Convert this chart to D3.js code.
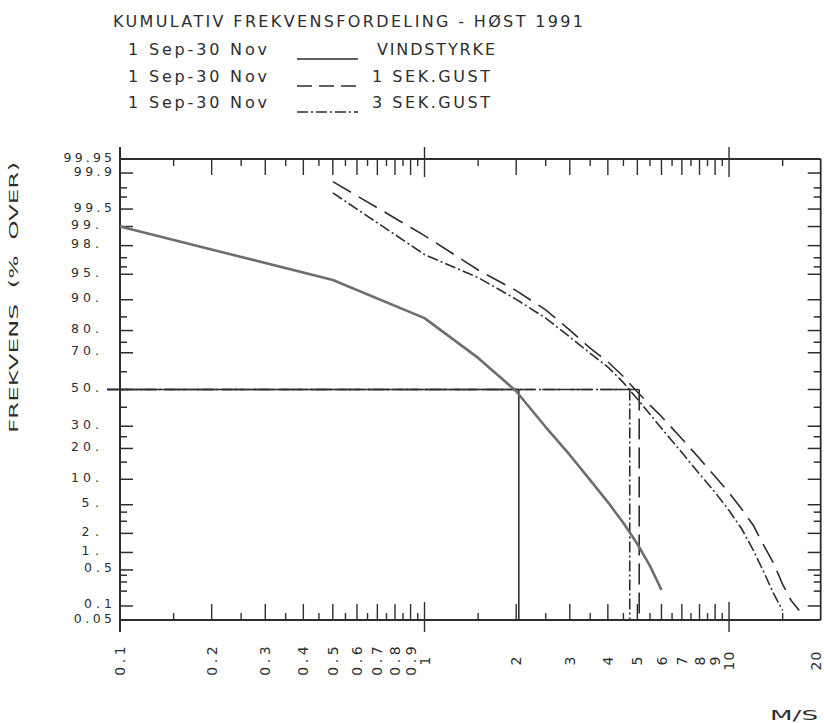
<!DOCTYPE html>
<html><head><meta charset="utf-8">
<script src="https://cdn.jsdelivr.net/npm/d3@7"></script>
<style>body{margin:0;background:#fff}svg{display:block}</style>
</head><body><svg id="c" width="824" height="723"></svg>
<script>
// ---- data ----
const speedsVind = [0.1,0.5,1,1.5,2,2.5,3,3.5,4,4.5,5,5.5,6];
const pctVind    = [99.0,94.1,84.6,67.4,49,29.6,17.5,9.8,5.4,2.83,1.37,0.59,0.21];
const speedsGust1 = [0.5,1,1.5,2,2.5,3,3.5,4,4.5,5,5.5,6,7,8,9,10,11,12,13,14,15,16,17];
const pctGust1    = [99.85,98.6,95.6,92.1,87.2,80.2,72.2,65.4,57.3,48.6,41.2,35,24.1,16.2,10.7,7.05,4.4,2.65,1.3,0.66,0.27,0.13,0.08];
const speedsGust3 = [0.5,1,1.5,2,2.5,3,3.5,4,4.5,5,5.5,6,7,8,9,10,11,12,13,14,15];
const pctGust3    = [99.75,97.3,94.5,90.1,84.6,77.3,69.7,62.6,53.9,44.6,36.2,29,18.4,11.4,7.1,4.2,2.34,1.1,0.46,0.18,0.08];
const medianSpeeds = [2.04, 4.72, 5.07];   // vind, 3 sek, 1 sek at 50 %
const yTickMajor  = [99.9,99.5,99,98,95,90,80,70,50,30,20,10,5,2,1,0.5,0.1];
const yTickMinor  = [99.8,99.7,97,96,85,75,60,40,25,15,4,3,0.4,0.3,0.2];
const yLabelVals  = [99.95,99.9,99.5,99,98,95,90,80,70,50,30,20,10,5,2,1,0.5,0.1,0.05];
const yLabels     = ["99.95","99.9","99.5","99.","98.","95.","90.","80.","70.","50.","30.","20.","10.","5.","2.","1.","0.5","0.1","0.05"];
const xTickMajor  = [0.2,0.3,0.4,0.5,0.6,0.7,0.8,0.9,2,3,4,5,6,7,8,9];
const xTickMinor  = [0.15,0.25,0.35,0.45,0.55,0.65,0.75,0.85,0.95,1.5,2.5,3.5,4.5,5.5,6.5,7.5,8.5,9.5,15];
const xTickCross  = [1,10];
const xLabelVals  = [0.1,0.2,0.3,0.4,0.5,0.6,0.7,0.8,0.9,1,2,3,4,5,6,7,8,9,10,20];
const xLabels     = ["0.1","0.2","0.3","0.4","0.5","0.6","0.7","0.8","0.9","1","2","3","4","5","6","7","8","9","10","20"];
const titleText = "KUMULATIV FREKVENSFORDELING - HØST 1991";
const periodText = "1 Sep-30 Nov";
const seriesNames = ["VINDSTYRKE","1 SEK.GUST","3 SEK.GUST"];

// ---- probit ----
function probit(p){
  const a=[-3.969683028665376e+01,2.209460984245205e+02,-2.759285104469687e+02,1.383577518672690e+02,-3.066479806614716e+01,2.506628277459239e+00];
  const b=[-5.447609879822406e+01,1.615858368580409e+02,-1.556989798598866e+02,6.680131188771972e+01,-1.328068155288572e+01];
  const c=[-7.784894002430293e-03,-3.223964580411365e-01,-2.400758277161838e+00,-2.549732539343734e+00,4.374664141464968e+00,2.938163982698783e+00];
  const d=[7.784695709041462e-03,3.224671290700398e-01,2.445134137142996e+00,3.754408661907416e+00];
  const pl=0.02425, ph=1-pl; let q,r;
  if(p<pl){q=Math.sqrt(-2*Math.log(p));return (((((c[0]*q+c[1])*q+c[2])*q+c[3])*q+c[4])*q+c[5])/((((d[0]*q+d[1])*q+d[2])*q+d[3])*q+1);}
  if(p<=ph){q=p-0.5;r=q*q;return (((((a[0]*r+a[1])*r+a[2])*r+a[3])*r+a[4])*r+a[5])*q/(((((b[0]*r+b[1])*r+b[2])*r+b[3])*r+b[4])*r+1);}
  q=Math.sqrt(-2*Math.log(1-p));return -(((((c[0]*q+c[1])*q+c[2])*q+c[3])*q+c[4])*q+c[5])/((((d[0]*q+d[1])*q+d[2])*q+d[3])*q+1);
}

// ---- scales ----
const L=120, R=820.7, T=159, B=620;
const x = d3.scaleLog().domain([0.1,20]).range([L,R]);
const yz = d3.scaleLinear().domain([probit(0.0005), probit(0.9995)]).range([B,T]);
const y = p => yz(probit(p/100));

const svg = d3.select("#c");
const ink = "#2e2e2e";
const FONT = "'DejaVu Sans', sans-serif";

// ---- frame ----
const g = svg.append("g").attr("stroke", ink).attr("fill","none");
g.append("line").attr("x1",L).attr("x2",L).attr("y1",T-12).attr("y2",B+12).attr("stroke-width",2);
g.append("line").attr("x1",L).attr("x2",R).attr("y1",T).attr("y2",T).attr("stroke-width",1.8);
g.append("line").attr("x1",L).attr("x2",R).attr("y1",B).attr("y2",B).attr("stroke-width",1.8);
g.append("line").attr("x1",R).attr("x2",R).attr("y1",T).attr("y2",B).attr("stroke-width",1.8);

function yTicks(vals,len){
  g.selectAll(null).data(vals).enter().append("line")
    .attr("x1",L).attr("x2",L+len).attr("y1",d=>y(d)).attr("y2",d=>y(d)).attr("stroke-width",1.5);
  g.selectAll(null).data(vals).enter().append("line")
    .attr("x1",R).attr("x2",R-len).attr("y1",d=>y(d)).attr("y2",d=>y(d)).attr("stroke-width",1.5);
}
yTicks(yTickMajor,13); yTicks(yTickMinor,7);

function xTicks(vals,lenIn,lenOut){
  g.selectAll(null).data(vals).enter().append("line")
    .attr("x1",d=>x(d)).attr("x2",d=>x(d)).attr("y1",T-lenOut).attr("y2",T+lenIn).attr("stroke-width",1.4);
  g.selectAll(null).data(vals).enter().append("line")
    .attr("x1",d=>x(d)).attr("x2",d=>x(d)).attr("y1",B+lenOut).attr("y2",B-lenIn).attr("stroke-width",1.4);
}
xTicks(xTickMajor,16,0); xTicks(xTickMinor,7,0); xTicks(xTickCross,18,12);

// ---- tick labels ----
const yl = svg.append("g").attr("fill",ink).attr("font-family",FONT).attr("font-size",12.5);
yl.selectAll(null).data(yLabelVals).enter().append("text")
  .attr("x",(d,i)=> yLabels[i].endsWith(".") ? 99 : 112)
  .attr("y",d=>y(d)+2.5)
  .attr("text-anchor","end")
  .attr("textLength",(d,i)=>yLabels[i].length*10.3-3)
  .attr("lengthAdjust","spacing")
  .text((d,i)=>yLabels[i]);

const xl = svg.append("g").attr("fill",ink).attr("font-family",FONT).attr("font-size",14);
xl.selectAll(null).data(xLabelVals).enter().append("text")
  .attr("transform",d=>`translate(${Math.min(x(d),816)},661) rotate(-90)`)
  .attr("text-anchor","middle").attr("dy","0.36em")
  .each(function(d,i){ const s=xLabels[i]; const t=d3.select(this).text(s);
    if(s.length>1) t.attr("textLength",s.length*10.5-2).attr("lengthAdjust","spacing"); });

// axis titles (wide plotter lettering)
svg.append("text").attr("transform","translate(18,433) rotate(-90)")
  .attr("font-family",FONT).attr("font-size",13).attr("fill",ink)
  .attr("xml:space","preserve")
  .attr("textLength",271).attr("lengthAdjust","spacingAndGlyphs").text("FREKVENS  (%  OVER)");
svg.append("text").attr("x",770).attr("y",720)
  .attr("font-family",FONT).attr("font-size",14).attr("fill",ink)
  .attr("textLength",48).attr("lengthAdjust","spacingAndGlyphs").text("M/S");

// ---- title & legend ----
const tg = svg.append("g").attr("fill",ink).attr("font-family",FONT).attr("font-size",16);
tg.append("text").attr("x",113).attr("y",27).attr("textLength",470).attr("lengthAdjust","spacing").text(titleText);
const rowsY=[55,82,108], nameX=[377,372,372], dash=[null,"15,7","11,3,2,3"];
seriesNames.forEach((n,i)=>{
  tg.append("text").attr("x",128).attr("y",rowsY[i]).attr("textLength",139).attr("lengthAdjust","spacing").text(periodText);
  tg.append("text").attr("x",nameX[i]).attr("y",rowsY[i]).attr("textLength",118).attr("lengthAdjust","spacing").text(n);
  svg.append("line").attr("x1",297).attr("x2",358).attr("y1",rowsY[i]+4).attr("y2",rowsY[i]+4)
    .attr("stroke",ink).attr("stroke-width",1.5).attr("stroke-dasharray",dash[i]);
});

// ---- median guide lines ----
const y50 = y(50);
const guideDash=[null,"11,3,2,3","21,8"];
const mg = svg.append("g").attr("stroke",ink).attr("stroke-width",1.6).attr("fill","none");
medianSpeeds.forEach((m,i)=>{
  mg.append("line").attr("x1",107).attr("x2",x(m)).attr("y1",y50).attr("y2",y50).attr("stroke-dasharray",guideDash[i]);
  mg.append("line").attr("x1",x(m)).attr("x2",x(m)).attr("y1",y50).attr("y2",B).attr("stroke-dasharray",guideDash[i]);
});

// ---- curves ----
const line = d3.line().x(d=>x(d[0])).y(d=>y(d[1]));
svg.append("path").datum(d3.zip(speedsGust1,pctGust1)).attr("d",line)
  .attr("fill","none").attr("stroke",ink).attr("stroke-width",1.6).attr("stroke-dasharray","21,9");
svg.append("path").datum(d3.zip(speedsGust3,pctGust3)).attr("d",line)
  .attr("fill","none").attr("stroke",ink).attr("stroke-width",1.6).attr("stroke-dasharray","11,3,2,3");
svg.append("path").datum(d3.zip(speedsVind,pctVind)).attr("d",line)
  .attr("fill","none").attr("stroke","#6e6e6e").attr("stroke-width",2.6).attr("stroke-linejoin","round");
</script></body></html>
